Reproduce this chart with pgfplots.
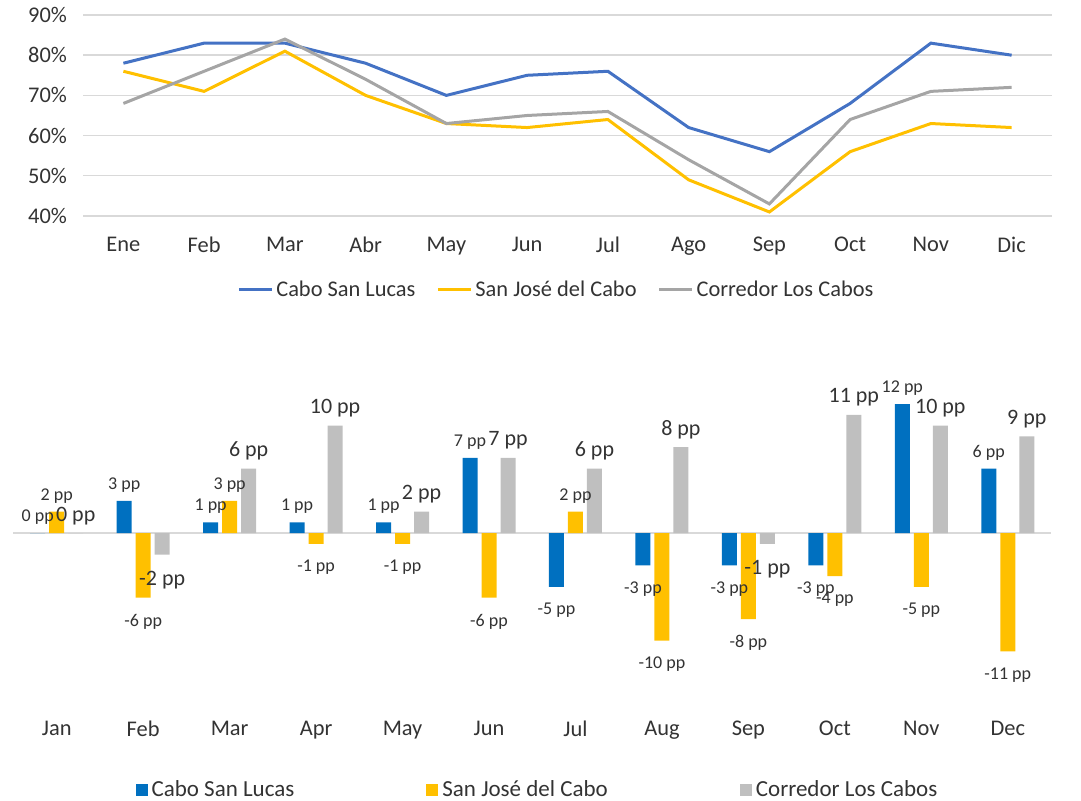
\documentclass[border=0pt]{standalone}
\usepackage{fontspec}
\setmainfont{Carlito}
\usepackage{pgfplots}
\usepackage{pgfplotstable}
\pgfplotsset{compat=1.18}
\definecolor{lnblue}{HTML}{4472C4}
\definecolor{lnyellow}{HTML}{FFC000}
\definecolor{lngray}{HTML}{A5A5A5}
\definecolor{barblue}{HTML}{0070C0}
\definecolor{bargray}{HTML}{BFBFBF}
\definecolor{txt}{HTML}{333333}
\definecolor{gridc}{HTML}{D9D9D9}

% occupancy by month (%)
\pgfplotstableread{
m csl sjc cor
0  78 76 68
1  83 71 76
2  83 81 84
3  78 70 74
4  70 63 63
5  75 62 65
6  76 64 66
7  62 49 54
8  56 41 43
9  68 56 64
10 83 63 71
11 80 62 72
}\occ

% change vs previous year (pp)
\pgfplotstableread{
m csl sjc cor
0  0   2   0
1  3  -6  -2
2  1   3   6
3  1  -1  10
4  1  -1   2
5  7  -6   7
6  -5  2   6
7  -3 -10  8
8  -3  -8 -1
9  -3  -4 11
10 12  -5 10
11 6  -11  9
}\diff

\begin{document}
\begin{tikzpicture}
\useasboundingbox (0,0) rectangle (540.5pt,400.5pt);

\begin{axis}[
  at={(41.5pt,292.5pt)}, anchor=south west,
  scale only axis, width=484.5pt, height=100.5pt,
  xmin=-0.5, xmax=11.5, ymin=40, ymax=90,
  axis line style={draw=none}, tick style={draw=none},
  ytick={40,50,...,90},
  yticklabels={40\%,50\%,60\%,70\%,80\%,90\%},
  xtick={0,...,11},
  xticklabels={Ene,Feb,Mar,Abr,May,Jun,Jul,Ago,Sep,Oct,Nov,Dic},
  tick label style={font=\fontsize{11.2}{13}\selectfont, text=txt},
  yticklabel style={xshift=-4.5pt},
  xticklabel style={yshift=-7pt},
  ymajorgrids, major grid style={draw=gridc, line width=0.7pt},
  clip=false,
  legend image code/.code={\draw[#1] (0pt,0pt) -- (16.5pt,0pt);},
  legend style={at={(0.489,-0.368)}, anchor=center, draw=none, fill=none,
    legend columns=3, font=\fontsize{11.2}{13}\selectfont, text=txt,
    /tikz/every even column/.append style={column sep=9pt},
    nodes={inner xsep=1.5pt}},
]
\addplot[lnblue, line width=1.5pt] table[x=m, y=csl]{\occ};
\addlegendentry{Cabo San Lucas}
\addplot[lnyellow, line width=1.5pt] table[x=m, y=sjc]{\occ};
\addlegendentry{San José del Cabo}
\addplot[lngray, line width=1.5pt] table[x=m, y=cor]{\occ};
\addlegendentry{Corredor Los Cabos}
\end{axis}

\begin{axis}[
  at={(6.75pt,45.3pt)}, anchor=south west,
  scale only axis, width=518.75pt, height=169.3pt,
  xmin=-0.5, xmax=11.5, ymin=-16.5, ymax=15,
  ybar, bar width=7.5pt,
  axis line style={draw=none}, tick style={draw=none},
  ytick=\empty,
  extra y ticks={0}, extra y tick labels={},
  extra y tick style={grid=major, major grid style={draw=gridc, line width=0.8pt}},
  xtick={0,...,11},
  xticklabels={Jan,Feb,Mar,Apr,May,Jun,Jul,Aug,Sep,Oct,Nov,Dec},
  tick label style={font=\fontsize{11.2}{13}\selectfont, text=txt},
  xticklabel style={yshift=2.5pt},
  clip=false,
  point meta=y,
  visualization depends on={rawy \as \rawy},
  nodes near coords={\pgfmathprintnumber{\pgfplotspointmeta} pp},
  nodes near coords style={text=txt, /pgf/number format/assume math mode=true,
    /pgf/number format/fixed, /pgf/number format/precision=0,
    inner sep=2pt, inner ysep=4pt,
    yshift={ifthenelse(\rawy<0,-4,0)*1pt}},
  legend image code/.code={\fill[#1] (0pt,-3pt) rectangle (6pt,3pt);},
  legend style={at={(0.506,-0.235)}, anchor=center, draw=none, fill=none,
    legend columns=3, font=\fontsize{11.5}{13}\selectfont, text=txt,
    /tikz/every even column/.append style={column sep=64pt},
    nodes={inner xsep=2pt}},
]
\addplot[fill=barblue, draw=none, bar shift=-9.5pt,
  every node near coord/.append style={font=\fontsize{9}{10}\selectfont}]
  table[x=m, y=csl]{\diff};
\addlegendentry{Cabo San Lucas}
\addplot[fill=lnyellow, draw=none, bar shift=0pt,
  every node near coord/.append style={font=\fontsize{9}{10}\selectfont}]
  table[x=m, y=sjc]{\diff};
\addlegendentry{San José del Cabo}
\addplot[fill=bargray, draw=none, bar shift=9.5pt,
  every node near coord/.append style={font=\fontsize{11}{12}\selectfont}]
  table[x=m, y=cor]{\diff};
\addlegendentry{Corredor Los Cabos}
\end{axis}
\end{tikzpicture}
\end{document}
